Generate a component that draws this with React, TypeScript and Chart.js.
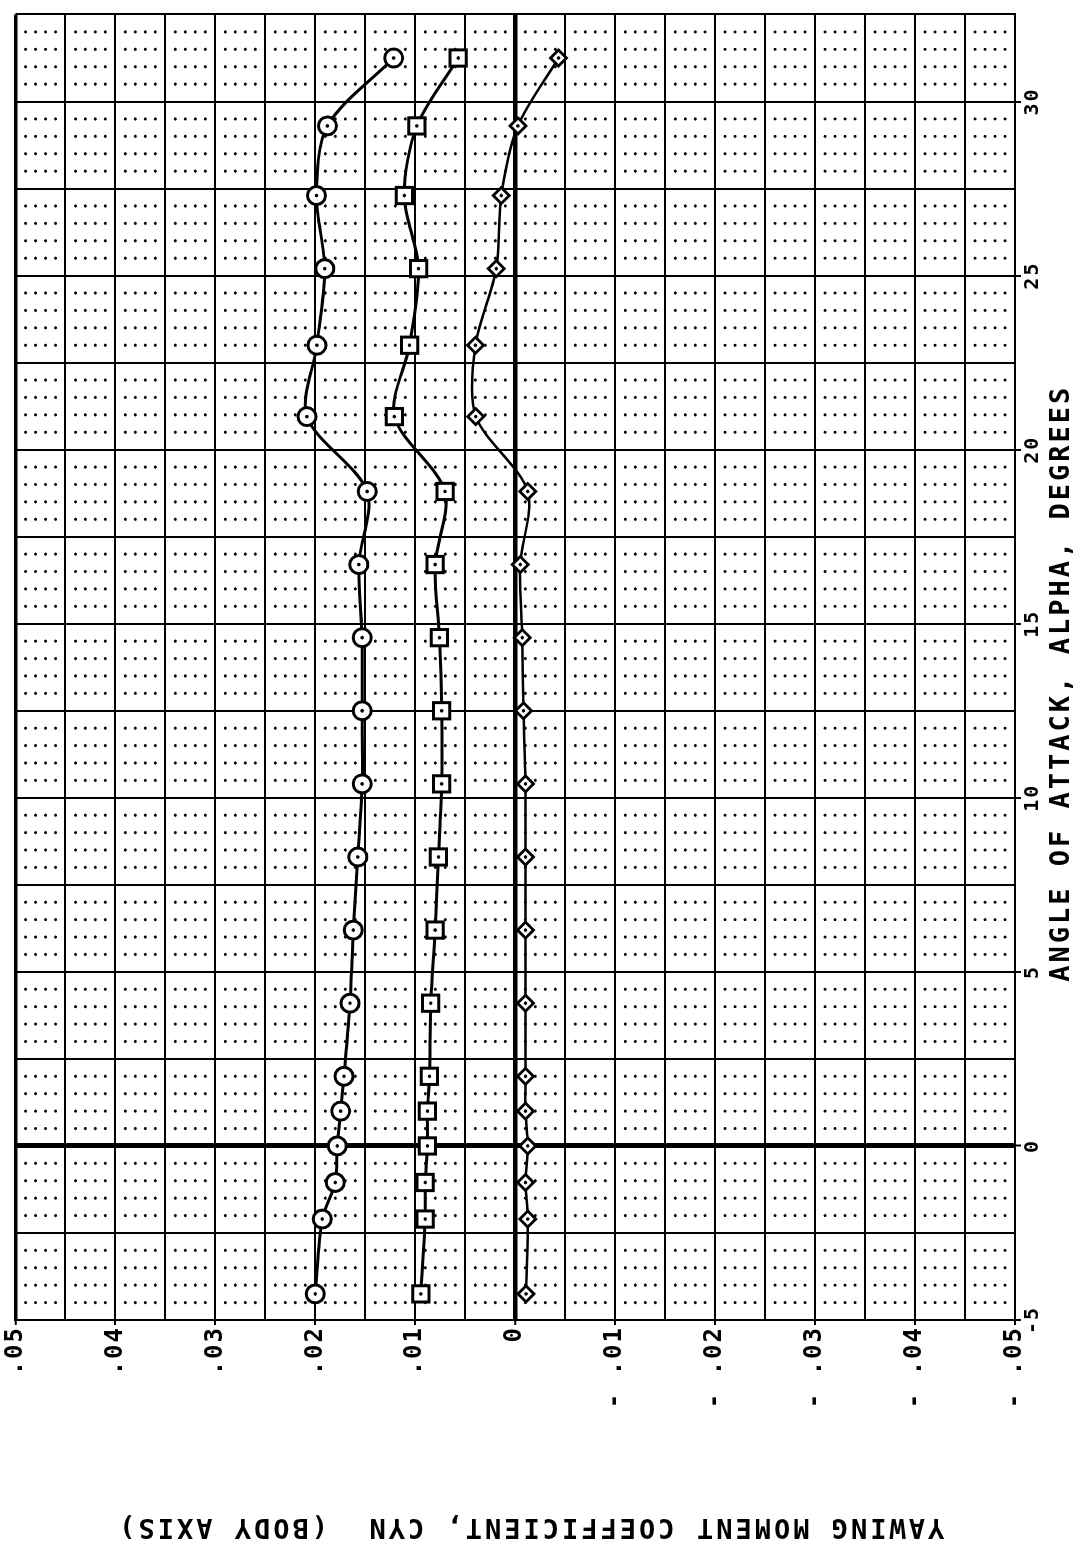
import React, { useEffect, useRef } from 'react';
import { Chart, registerables } from 'chart.js';

Chart.register(...registerables);

// Angle of attack (deg) of each test point
const ALPHA = [-4.25, -2.1, -1.05, 0, 1.0, 2.0, 4.1, 6.2, 8.3, 10.4, 12.5, 14.6, 16.7, 18.8, 20.95, 23.0, 25.2, 27.3, 29.3, 31.25];
// Yawing moment coefficient CYN, three runs
const CYN_CIRCLE = [0.0200, 0.0193, 0.0180, 0.0178, 0.01746, 0.01713, 0.01653, 0.0162, 0.01574, 0.01531, 0.01531, 0.01531, 0.01564, 0.01481, 0.02084, 0.01984, 0.01905, 0.01988, 0.01879, 0.01216];
const CYN_SQUARE = [0.00944, 0.0090, 0.0090, 0.00878, 0.00878, 0.00858, 0.00845, 0.00801, 0.00768, 0.00736, 0.00736, 0.00758, 0.00801, 0.00702, 0.01209, 0.01057, 0.00967, 0.01109, 0.00984, 0.0057];
const CYN_DIAMOND = [-0.00109, -0.00126, -0.00103, -0.00126, -0.00103, -0.00103, -0.00103, -0.00103, -0.00103, -0.00103, -0.00083, -0.0007, -0.0005, -0.00126, 0.00394, 0.00398, 0.00189, 0.00139, -0.00027, -0.00434];

const ALPHA_TICKS = [-5, 0, 5, 10, 15, 20, 25, 30];
const ALPHA_TICK_LABELS = ['-5', '0', '5', '10', '15', '20', '25', '30'];
const CYN_TICKS = [-0.05, -0.04, -0.03, -0.02, -0.01, 0, 0.01, 0.02, 0.03, 0.04, 0.05];
const CYN_TICK_LABELS = ['- .05', '- .04', '- .03', '- .02', '- .01', '0', '.01', '.02', '.03', '.04', '.05'];

const X_TITLE = 'ANGLE OF ATTACK, ALPHA, DEGREES';
const Y_TITLE = 'YAWING MOMENT COEFFICIENT, CYN  (BODY AXIS)';

const ALPHA_MIN = -5;
const ALPHA_MAX = 32.5;
const ALPHA_MAJOR = 2.5;
const ALPHA_MINOR = 0.5;
const CYN_MIN = -0.05;
const CYN_MAX = 0.05;
const CYN_MAJOR = 0.005;
const CYN_MINOR = 0.001;

const W = 1544;
const H = 1077;

function labelFor(v: number, ticks: number[], labels: string[], eps: number): string {
  for (let i = 0; i < ticks.length; i++) {
    if (Math.abs(ticks[i] - v) < eps) return labels[i];
  }
  return '';
}

const xTickFont = { family: 'DejaVu Sans Mono', size: 20, weight: 'bold' as const };
const yTickFont = { family: 'DejaVu Sans Mono', size: 24, weight: 'bold' as const };
const LETTER_SPACING: Record<string, string> = { x: '2px', y: '2px' };

const minorDots = {
  id: 'minorDots',
  beforeDatasetsDraw(chart: any) {
    const { ctx, scales } = chart;
    const x = scales.x;
    const y = scales.y;
    ctx.save();
    ctx.fillStyle = '#000';
    const nA = Math.round((ALPHA_MAX - ALPHA_MIN) / ALPHA_MINOR);
    const perA = Math.round(ALPHA_MAJOR / ALPHA_MINOR);
    const nC = Math.round((CYN_MAX - CYN_MIN) / CYN_MINOR);
    const perC = Math.round(CYN_MAJOR / CYN_MINOR);
    for (let i = 0; i <= nA; i++) {
      if (i % perA === 0) continue;
      const px = x.getPixelForValue(ALPHA_MIN + i * ALPHA_MINOR);
      for (let j = 0; j <= nC; j++) {
        if (j % perC === 0) continue;
        const py = y.getPixelForValue(CYN_MIN + j * CYN_MINOR);
        ctx.beginPath();
        ctx.arc(px, py, 1.5, 0, Math.PI * 2);
        ctx.fill();
      }
    }
    ctx.restore();
  },
};

const centerDots = {
  id: 'centerDots',
  afterDatasetsDraw(chart: any) {
    const { ctx } = chart;
    ctx.save();
    ctx.fillStyle = '#000';
    chart.data.datasets.forEach((_d: any, i: number) => {
      const meta = chart.getDatasetMeta(i);
      meta.data.forEach((el: any) => {
        ctx.beginPath();
        ctx.arc(el.x, el.y, 1.8, 0, Math.PI * 2);
        ctx.fill();
      });
    });
    ctx.restore();
  },
};

const textStyle = {
  id: 'textStyle',
  afterLayout(chart: any) {
    ['x', 'y'].forEach((id) => {
      const s = chart.scales[id];
      if (!s || s.__lsWrapped) return;
      const orig = s.drawLabels.bind(s);
      s.drawLabels = (area: any) => {
        const c = s.ctx;
        const prev = c.letterSpacing;
        c.letterSpacing = LETTER_SPACING[id];
        orig(area);
        c.letterSpacing = prev || '0px';
      };
      s.__lsWrapped = true;
    });
  },
  afterDraw(chart: any) {
    const { ctx, chartArea: ca } = chart;
    ctx.save();
    ctx.fillStyle = '#000';
    ctx.font = "bold 27px 'DejaVu Sans Mono'";
    ctx.letterSpacing = '3px';
    ctx.textAlign = 'center';
    ctx.textBaseline = 'middle';
    ctx.fillText(X_TITLE, (ca.left + ca.right) / 2 - 16, chart.height - 15);
    ctx.translate(18, (ca.top + ca.bottom) / 2 + 15);
    ctx.rotate(-Math.PI / 2);
    ctx.fillText(Y_TITLE, 0, 0);
    ctx.restore();
    ctx.letterSpacing = '0px';
  },
};

export default function App() {
  const ref = useRef<HTMLCanvasElement | null>(null);

  useEffect(() => {
    if (!ref.current) return;
    const mk = (vals: number[]) => ALPHA.map((a, i) => ({ x: a, y: vals[i] }));
    const chart = new Chart(ref.current, {
      type: 'scatter',
      data: {
        datasets: [
          {
            data: mk(CYN_CIRCLE),
            showLine: true,
            borderColor: '#000',
            borderWidth: 3,
            tension: 0.3,
            pointStyle: 'circle',
            pointRadius: 9,
            pointBorderWidth: 3,
            pointBorderColor: '#000',
            pointBackgroundColor: '#fff',
          },
          {
            data: mk(CYN_SQUARE),
            showLine: true,
            borderColor: '#000',
            borderWidth: 3,
            tension: 0.3,
            pointStyle: 'rect',
            pointRadius: 11.5,
            pointBorderWidth: 3,
            pointBorderColor: '#000',
            pointBackgroundColor: '#fff',
          },
          {
            data: mk(CYN_DIAMOND),
            showLine: true,
            borderColor: '#000',
            borderWidth: 2.5,
            tension: 0.3,
            pointStyle: 'rectRot',
            pointRadius: 8,
            pointBorderWidth: 2.8,
            pointBorderColor: '#000',
            pointBackgroundColor: '#fff',
          },
        ],
      },
      options: {
        responsive: false,
        animation: false,
        devicePixelRatio: 1,
        layout: { padding: { top: 10, right: 5, left: 0, bottom: 0 } },
        plugins: {
          legend: { display: false },
          tooltip: { enabled: false },
          title: { display: false },
        },
        scales: {
          x: {
            type: 'linear',
            position: 'bottom',
            min: ALPHA_MIN,
            max: ALPHA_MAX,
            afterFit: (s: any) => {
              s.height = 62;
            },
            ticks: {
              stepSize: ALPHA_MAJOR,
              autoSkip: false,
              maxRotation: 0,
              minRotation: 0,
              padding: 0,
              color: '#000',
              font: xTickFont,
              callback: (v: any) => labelFor(Number(v), ALPHA_TICKS, ALPHA_TICK_LABELS, 1e-6),
            },
            grid: {
              color: '#000',
              lineWidth: (c: any) => (Math.abs(c.tick?.value ?? 1) < 1e-9 ? 5 : 2),
              tickLength: 6,
              tickWidth: 2,
              tickColor: (c: any) =>
                labelFor(c.tick?.value ?? 999, ALPHA_TICKS, ALPHA_TICK_LABELS, 1e-6) ? '#000' : 'rgba(0,0,0,0)',
            },
            border: { display: true, color: '#000', width: 2 },
          },
          y: {
            type: 'linear',
            min: CYN_MIN,
            max: CYN_MAX,
            afterFit: (s: any) => {
              s.width = 224;
            },
            ticks: {
              stepSize: CYN_MAJOR,
              autoSkip: false,
              padding: 1,
              color: '#000',
              font: yTickFont,
              callback: (v: any) => labelFor(Number(v), CYN_TICKS, CYN_TICK_LABELS, 1e-7),
            },
            grid: {
              color: '#000',
              lineWidth: (c: any) => {
                const v = c.tick?.value ?? 1;
                if (Math.abs(v) < 1e-9) return 4.5;
                if (Math.abs(v - CYN_MAX) < 1e-9) return 3.5;
                return 2;
              },
              tickLength: 5,
              tickWidth: 2,
              tickColor: (c: any) =>
                labelFor(c.tick?.value ?? 999, CYN_TICKS, CYN_TICK_LABELS, 1e-7) ? '#000' : 'rgba(0,0,0,0)',
            },
            border: { display: true, color: '#000', width: 2 },
          },
        },
      },
      plugins: [minorDots, centerDots, textStyle],
    } as any);
    return () => chart.destroy();
  }, []);

  return (
    <div
      style={{
        position: 'absolute',
        left: 0,
        top: 0,
        width: 1077,
        height: 1544,
        overflow: 'hidden',
        background: '#fff',
      }}
    >
      <div
        style={{
          position: 'absolute',
          left: 0,
          top: 0,
          width: W,
          height: H,
          transformOrigin: '0 0',
          transform: `translateY(${W}px) rotate(-90deg)`,
        }}
      >
        <canvas ref={ref} width={W} height={H} style={{ width: W, height: H, display: 'block' }} />
      </div>
    </div>
  );
}
